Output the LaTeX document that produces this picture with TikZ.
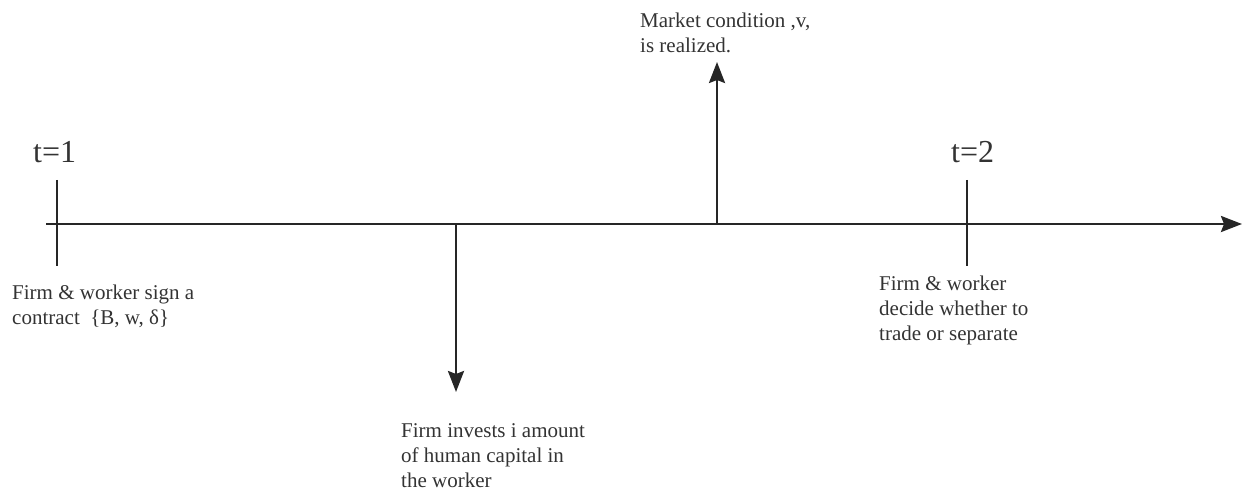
\documentclass[tikz,border=0pt]{standalone}
\usepackage{fontspec}
\setmainfont{Liberation Serif}
\usetikzlibrary{arrows.meta}
\begin{document}
\begin{tikzpicture}[x=1pt,y=-1pt,
  axis/.style={line width=2.6pt,draw=black!85},
  tip/.style={-{Stealth[length=21pt,width=16pt,inset=3pt]}},
  lbl/.style={anchor=base west,inner sep=0pt,align=left,font=\fontsize{21}{25}\selectfont,text=black!80},
  tlbl/.style={anchor=base west,inner sep=0pt,font=\fontsize{32}{32}\selectfont,text=black!80}]
\useasboundingbox (0,0) rectangle (1243,492);
\coordinate (a0) at (46,224);
\coordinate (a1) at (1242,224);
\draw[axis,tip] (a0) -- (a1);
% ticks
\coordinate (t1a) at (57,180); \coordinate (t1b) at (57,266);
\coordinate (t2a) at (967,180); \coordinate (t2b) at (967,266);
\draw[axis] (t1a) -- (t1b);
\draw[axis] (t2a) -- (t2b);
\node[tlbl] (l1) at (33,163) {t=1};
\node[tlbl] (l2) at (951,163) {t=2};
% arrows
\coordinate (d0) at (456,224); \coordinate (d1) at (456,392);
\coordinate (u0) at (717,224); \coordinate (u1) at (717,62);
\draw[axis,tip] (d0) -- (d1);
\draw[axis,tip] (u0) -- (u1);
% texts (anchor = baseline of last line)
\node[lbl] (n1) at (12,324) {Firm \& worker sign a\\contract \ \{B, w, δ\}};
\node[lbl] (n2) at (401,487) {Firm invests i amount\\of human capital in\\the worker};
\node[lbl] (n3) at (640,53) {Market condition ,v,\\is realized.};
\node[lbl] (n4) at (879,340) {Firm \& worker\\decide whether to\\trade or separate};
\end{tikzpicture}
\end{document}
